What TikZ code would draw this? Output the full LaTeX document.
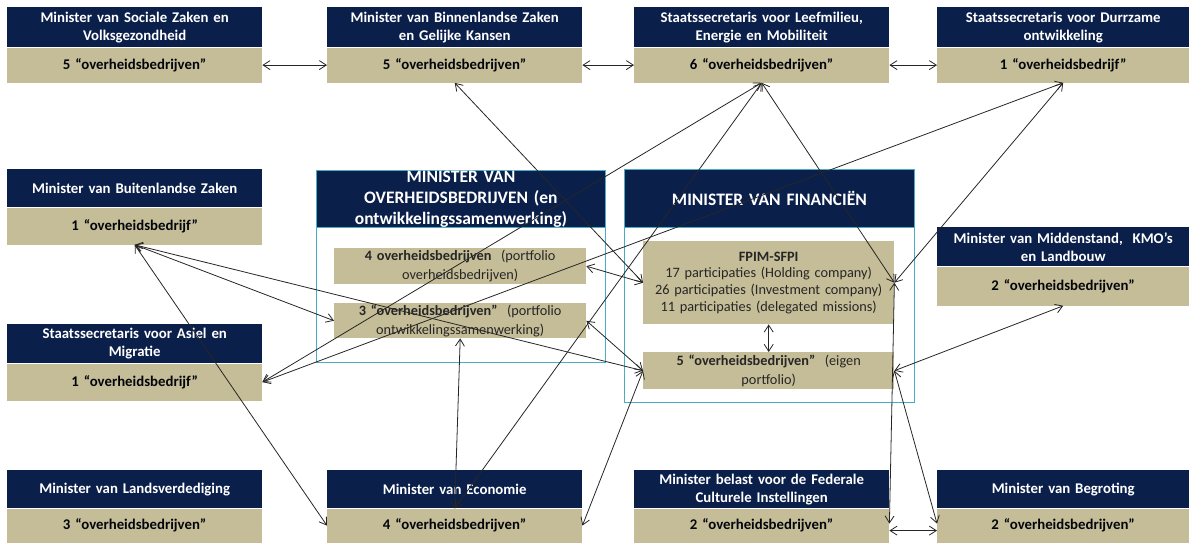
\documentclass[tikz,border=0pt]{standalone}
\usepackage{fontspec}
\setmainfont{Carlito}
\usetikzlibrary{arrows.meta}
\definecolor{navy}{HTML}{0B1F4B}
\definecolor{tanbox}{HTML}{C5BD97}
\definecolor{framec}{HTML}{4BACC6}
\begin{document}
\begin{tikzpicture}[x=1pt,y=-1pt,
  >={Straight Barb[length=7pt,width=9pt]},
  hdr/.style={fill=navy,text=white,font=\bfseries\fontsize{14.8}{18}\selectfont,
    anchor=north west,inner sep=0pt,align=center,minimum width=255pt,
    text width=252pt,minimum height=39pt},
  bdy/.style={fill=tanbox,text=black!85!navy,font=\bfseries\fontsize{14.8}{18}\selectfont,
    anchor=north west,inner sep=0pt,align=center,minimum width=255pt,
    text width=252pt,minimum height=36pt},
  cframe/.style={draw=framec,line width=0.8pt,anchor=north west,inner sep=0pt,
    minimum width=289pt},
  chdr/.style={fill=navy,draw=framec,line width=0.8pt,text=white,
    font=\bfseries\fontsize{17.5}{21}\selectfont,anchor=north west,inner sep=0pt,
    align=center,minimum width=289pt,text width=287pt,minimum height=57pt},
  sub/.style={fill=tanbox,text=black!85,font=\fontsize{14.3}{19}\selectfont,
    anchor=north west,inner sep=0pt,align=center,minimum width=252pt,text width=250pt},
  conn/.style={<->,draw=black!85,line width=0.8pt}]
\useasboundingbox (0,0) rectangle (1189,542);

% containers
\node[cframe,minimum height=192pt] (cL) at (316,170) {};
\node[chdr] (cLh) at (316,170) {\raisebox{0pt}[0pt][0pt]{}MINISTER VAN\\OVERHEIDSBEDRIJVEN (en\\ontwikkelingssamenwerking)};
\node[cframe,minimum width=290pt,minimum height=233pt] (cR) at (624,169) {};
\node[chdr,minimum width=290pt,minimum height=58pt] (cRh) at (624,169) {MINISTER VAN FINANCIËN};

\node[sub,minimum height=36pt] (ov4) at (334,248) {\textbf{4 overheidsbedrijven} \ (portfolio\\overheidsbedrijven)};
\node[sub,minimum height=35pt] (ov3) at (334,303) {\textbf{3 “overheidsbedrijven”} \ (portfolio\\ontwikkelingssamenwerking)};
\node[sub,minimum width=251pt,minimum height=83pt,font=\fontsize{14.3}{16.6}\selectfont] (fpim) at (643,241) {\textbf{FPIM-SFPI}\\17 participaties (Holding company)\\26 participaties (Investment company)\\11 participaties (delegated missions)};
\node[sub,minimum width=251pt,minimum height=37pt] (eigen) at (643,352) {\textbf{5 “overheidsbedrijven”} \ (eigen\\portfolio)};

% top row
\node[hdr,minimum height=40pt] (h1) at (7,7) {Minister van Sociale Zaken en\\Volksgezondheid};
\node[bdy,minimum height=35pt] (b1) at (h1.south west) {5 “overheidsbedrijven”};
\node[hdr,minimum height=40pt] (h2) at (327,7) {Minister van Binnenlandse Zaken\\en Gelijke Kansen};
\node[bdy,minimum height=35pt] (b2) at (h2.south west) {5 “overheidsbedrijven”};
\node[hdr,minimum height=40pt] (h3) at (634,7) {Staatssecretaris voor Leefmilieu,\\Energie en Mobiliteit};
\node[bdy,minimum height=35pt] (b3) at (h3.south west) {6 “overheidsbedrijven”};
\node[hdr,minimum height=40pt,minimum width=252pt,text width=250pt] (h4) at (937,7) {Staatssecretaris voor Durrzame\\ontwikkeling};
\node[bdy,minimum height=35pt,minimum width=252pt,text width=250pt] (b4) at (h4.south west) {1 “overheidsbedrijf”};

% left side
\node[hdr,minimum height=38pt] (bzh) at (7,169) {Minister van Buitenlandse Zaken};
\node[bdy,minimum height=37pt] (bzb) at (bzh.south west) {1 “overheidsbedrijf”};
\node[hdr,minimum height=39pt] (ash) at (7,324) {Staatssecretaris voor Asiel en\\Migratie};
\node[bdy,minimum height=37pt] (asb) at (ash.south west) {1 “overheidsbedrijf”};

% right side
\node[hdr,minimum height=39pt,minimum width=252pt,text width=250pt] (mh) at (937,227) {Minister van Middenstand, \ KMO’s\\en Landbouw};
\node[bdy,minimum height=39pt,minimum width=252pt,text width=250pt] (mb) at (mh.south west) {2 “overheidsbedrijven”};

% bottom row
\node[hdr,minimum height=38pt] (lh) at (7,470) {Minister van Landsverdediging};
\node[bdy,minimum height=34pt] (lb) at (lh.south west) {3 “overheidsbedrijven”};
\node[hdr,minimum height=38pt] (eh) at (327,470) {Minister van Economie};
\node[bdy,minimum height=34pt] (eb) at (eh.south west) {4 “overheidsbedrijven”};
\node[hdr,minimum height=38pt] (ch) at (634,470) {Minister belast voor de Federale\\Culturele Instellingen};
\node[bdy,minimum height=34pt] (cb) at (ch.south west) {2 “overheidsbedrijven”};
\node[hdr,minimum height=38pt,minimum width=252pt,text width=250pt] (gh) at (937,470) {Minister van Begroting};
\node[bdy,minimum height=34pt,minimum width=252pt,text width=250pt] (gb) at (gh.south west) {2 “overheidsbedrijven”};

% connectors
\draw[conn] (b1.east) -- (b2.west);
\draw[conn] (b2.east) -- (b3.west);
\draw[conn] (b3.east) -- (b4.west);
\draw[conn] (b2.south) -- (fpim.west);
\draw[conn] (b3.south) -- (asb.east);
\draw[conn] (b3.south) -- (eb.north);
\draw[conn] (b3.south) -- (fpim.east);
\draw[conn] (b4.south) -- (asb.east);
\draw[conn] (b4.south) -- (fpim.east);
\draw[conn] (bzb.south) -- (ov3.west);
\draw[conn] (bzb.south) -- (eigen.west);
\draw[conn] (bzb.south) -- (eb.west);
\draw[conn] (ov4.east) -- (fpim.west);
\draw[conn] (ov3.east) -- (eigen.west);
\draw[conn] (ov3.south) -- (eb.north);
\draw[conn] (eb.east) -- (eigen.west);
\draw[conn] (fpim.south) -- (eigen.north);
\draw[conn] (fpim.east) -- ([yshift=2pt]cb.east);
\draw[conn] (eigen.east) -- ([yshift=2pt]gb.west);
\draw[conn] (mb.south) -- (eigen.east);
\draw[conn] ([yshift=-5pt]cb.east) -- ([yshift=-5pt]gb.west);
\end{tikzpicture}
\end{document}
